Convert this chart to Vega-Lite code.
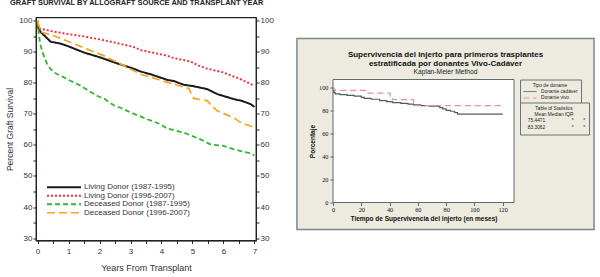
{
  "$schema": "https://vega.github.io/schema/vega-lite/v6.json",
  "background": "white",
  "padding": {"left": 5, "top": -1.5, "right": 0, "bottom": 0},
  "title": {"text": "GRAFT SURVIVAL BY ALLOGRAFT SOURCE AND TRANSPLANT YEAR", "anchor": "start", "font": "Liberation Sans", "fontSize": 7.5, "fontWeight": "bold", "color": "#222", "offset": 9.5, "dx": 5},
  "spacing": 22,
  "resolve": {
    "scale": {"color": "independent", "strokeDash": "independent", "strokeWidth": "independent", "shape": "independent"},
    "legend": {"color": "independent", "strokeDash": "independent", "strokeWidth": "independent", "shape": "independent"}
  },
  "datasets": {
    "graft": [
      {"series": "Living Donor (1987-1995)", "year": 0, "pct": 100},
      {"series": "Living Donor (1987-1995)", "year": 0.03, "pct": 97.5},
      {"series": "Living Donor (1987-1995)", "year": 0.1, "pct": 96.4},
      {"series": "Living Donor (1987-1995)", "year": 0.25, "pct": 95},
      {"series": "Living Donor (1987-1995)", "year": 0.42, "pct": 93.3},
      {"series": "Living Donor (1987-1995)", "year": 0.74, "pct": 92.7},
      {"series": "Living Donor (1987-1995)", "year": 1, "pct": 91.8},
      {"series": "Living Donor (1987-1995)", "year": 1.5, "pct": 89.8},
      {"series": "Living Donor (1987-1995)", "year": 2.03, "pct": 88.2},
      {"series": "Living Donor (1987-1995)", "year": 2.57, "pct": 86.3},
      {"series": "Living Donor (1987-1995)", "year": 3.1, "pct": 84.6},
      {"series": "Living Donor (1987-1995)", "year": 3.32, "pct": 83.7},
      {"series": "Living Donor (1987-1995)", "year": 3.65, "pct": 82.8},
      {"series": "Living Donor (1987-1995)", "year": 4.18, "pct": 81},
      {"series": "Living Donor (1987-1995)", "year": 4.4, "pct": 80.6},
      {"series": "Living Donor (1987-1995)", "year": 4.72, "pct": 79.4},
      {"series": "Living Donor (1987-1995)", "year": 5, "pct": 79},
      {"series": "Living Donor (1987-1995)", "year": 5.3, "pct": 78.4},
      {"series": "Living Donor (1987-1995)", "year": 5.5, "pct": 77.9},
      {"series": "Living Donor (1987-1995)", "year": 5.8, "pct": 76.4},
      {"series": "Living Donor (1987-1995)", "year": 6, "pct": 75.8},
      {"series": "Living Donor (1987-1995)", "year": 6.33, "pct": 74.8},
      {"series": "Living Donor (1987-1995)", "year": 6.6, "pct": 74.2},
      {"series": "Living Donor (1987-1995)", "year": 6.87, "pct": 73.2},
      {"series": "Living Donor (1987-1995)", "year": 7, "pct": 72.3},
      {"series": "Living Donor (1996-2007)", "year": 0, "pct": 100},
      {"series": "Living Donor (1996-2007)", "year": 0.03, "pct": 97.6},
      {"series": "Living Donor (1996-2007)", "year": 0.5, "pct": 96.6},
      {"series": "Living Donor (1996-2007)", "year": 0.96, "pct": 95.8},
      {"series": "Living Donor (1996-2007)", "year": 1.5, "pct": 95},
      {"series": "Living Donor (1996-2007)", "year": 2.03, "pct": 94},
      {"series": "Living Donor (1996-2007)", "year": 2.5, "pct": 93},
      {"series": "Living Donor (1996-2007)", "year": 3.1, "pct": 91.6},
      {"series": "Living Donor (1996-2007)", "year": 3.32, "pct": 90.6},
      {"series": "Living Donor (1996-2007)", "year": 3.8, "pct": 89.6},
      {"series": "Living Donor (1996-2007)", "year": 4.18, "pct": 88.8},
      {"series": "Living Donor (1996-2007)", "year": 4.4, "pct": 88},
      {"series": "Living Donor (1996-2007)", "year": 4.94, "pct": 86.9},
      {"series": "Living Donor (1996-2007)", "year": 5.2, "pct": 85.6},
      {"series": "Living Donor (1996-2007)", "year": 5.47, "pct": 84.6},
      {"series": "Living Donor (1996-2007)", "year": 6, "pct": 83.4},
      {"series": "Living Donor (1996-2007)", "year": 6.55, "pct": 81.2},
      {"series": "Living Donor (1996-2007)", "year": 7, "pct": 79.1},
      {"series": "Deceased Donor (1987-1995)", "year": 0, "pct": 100},
      {"series": "Deceased Donor (1987-1995)", "year": 0.05, "pct": 95},
      {"series": "Deceased Donor (1987-1995)", "year": 0.1, "pct": 92},
      {"series": "Deceased Donor (1987-1995)", "year": 0.2, "pct": 88.8},
      {"series": "Deceased Donor (1987-1995)", "year": 0.31, "pct": 86},
      {"series": "Deceased Donor (1987-1995)", "year": 0.42, "pct": 84.5},
      {"series": "Deceased Donor (1987-1995)", "year": 0.53, "pct": 83.4},
      {"series": "Deceased Donor (1987-1995)", "year": 0.85, "pct": 81.8},
      {"series": "Deceased Donor (1987-1995)", "year": 1.06, "pct": 80.7},
      {"series": "Deceased Donor (1987-1995)", "year": 1.39, "pct": 79.1},
      {"series": "Deceased Donor (1987-1995)", "year": 1.6, "pct": 77.8},
      {"series": "Deceased Donor (1987-1995)", "year": 1.93, "pct": 75.8},
      {"series": "Deceased Donor (1987-1995)", "year": 2.14, "pct": 75},
      {"series": "Deceased Donor (1987-1995)", "year": 2.46, "pct": 72.8},
      {"series": "Deceased Donor (1987-1995)", "year": 2.68, "pct": 72},
      {"series": "Deceased Donor (1987-1995)", "year": 3, "pct": 70.5},
      {"series": "Deceased Donor (1987-1995)", "year": 3.54, "pct": 68.3},
      {"series": "Deceased Donor (1987-1995)", "year": 3.97, "pct": 66.7},
      {"series": "Deceased Donor (1987-1995)", "year": 4.18, "pct": 65.3},
      {"series": "Deceased Donor (1987-1995)", "year": 4.72, "pct": 64},
      {"series": "Deceased Donor (1987-1995)", "year": 5.26, "pct": 61.8},
      {"series": "Deceased Donor (1987-1995)", "year": 5.58, "pct": 60.2},
      {"series": "Deceased Donor (1987-1995)", "year": 6, "pct": 59.7},
      {"series": "Deceased Donor (1987-1995)", "year": 6.33, "pct": 58.6},
      {"series": "Deceased Donor (1987-1995)", "year": 6.87, "pct": 57.3},
      {"series": "Deceased Donor (1987-1995)", "year": 7, "pct": 56.6},
      {"series": "Deceased Donor (1996-2007)", "year": 0, "pct": 100},
      {"series": "Deceased Donor (1996-2007)", "year": 0.1, "pct": 96.5},
      {"series": "Deceased Donor (1996-2007)", "year": 0.53, "pct": 95.2},
      {"series": "Deceased Donor (1996-2007)", "year": 1.06, "pct": 93.1},
      {"series": "Deceased Donor (1996-2007)", "year": 1.6, "pct": 90.9},
      {"series": "Deceased Donor (1996-2007)", "year": 2.14, "pct": 88.8},
      {"series": "Deceased Donor (1996-2007)", "year": 2.68, "pct": 86.1},
      {"series": "Deceased Donor (1996-2007)", "year": 3.1, "pct": 84},
      {"series": "Deceased Donor (1996-2007)", "year": 3.32, "pct": 82.8},
      {"series": "Deceased Donor (1996-2007)", "year": 4.4, "pct": 79.6},
      {"series": "Deceased Donor (1996-2007)", "year": 4.88, "pct": 78.2},
      {"series": "Deceased Donor (1996-2007)", "year": 5.04, "pct": 75},
      {"series": "Deceased Donor (1996-2007)", "year": 5.47, "pct": 74.3},
      {"series": "Deceased Donor (1996-2007)", "year": 5.63, "pct": 72.6},
      {"series": "Deceased Donor (1996-2007)", "year": 5.8, "pct": 71},
      {"series": "Deceased Donor (1996-2007)", "year": 6.33, "pct": 68.8},
      {"series": "Deceased Donor (1996-2007)", "year": 6.55, "pct": 67.3},
      {"series": "Deceased Donor (1996-2007)", "year": 7, "pct": 65.6}
    ],
    "km": [
      {"donante": "Donante cadáver", "mes": 0, "pct": 100},
      {"donante": "Donante cadáver", "mes": 0.3, "pct": 97},
      {"donante": "Donante cadáver", "mes": 0.7, "pct": 95.5},
      {"donante": "Donante cadáver", "mes": 1.5, "pct": 94.5},
      {"donante": "Donante cadáver", "mes": 5, "pct": 93.8},
      {"donante": "Donante cadáver", "mes": 10, "pct": 93.2},
      {"donante": "Donante cadáver", "mes": 15, "pct": 92.5},
      {"donante": "Donante cadáver", "mes": 20, "pct": 91.5},
      {"donante": "Donante cadáver", "mes": 22, "pct": 90.5},
      {"donante": "Donante cadáver", "mes": 27, "pct": 89.8},
      {"donante": "Donante cadáver", "mes": 33, "pct": 88.7},
      {"donante": "Donante cadáver", "mes": 38, "pct": 87.8},
      {"donante": "Donante cadáver", "mes": 42, "pct": 86.9},
      {"donante": "Donante cadáver", "mes": 48, "pct": 86.2},
      {"donante": "Donante cadáver", "mes": 53, "pct": 85.5},
      {"donante": "Donante cadáver", "mes": 57, "pct": 85},
      {"donante": "Donante cadáver", "mes": 62, "pct": 84.2},
      {"donante": "Donante cadáver", "mes": 68, "pct": 83.8},
      {"donante": "Donante cadáver", "mes": 74, "pct": 83.6},
      {"donante": "Donante cadáver", "mes": 75.5, "pct": 82.5},
      {"donante": "Donante cadáver", "mes": 77.5, "pct": 81.4},
      {"donante": "Donante cadáver", "mes": 80, "pct": 80.2},
      {"donante": "Donante cadáver", "mes": 83, "pct": 79.4},
      {"donante": "Donante cadáver", "mes": 86, "pct": 78.3},
      {"donante": "Donante cadáver", "mes": 88, "pct": 76.8},
      {"donante": "Donante cadáver", "mes": 120, "pct": 76.8},
      {"donante": "Donante vivo", "mes": 0, "pct": 100},
      {"donante": "Donante vivo", "mes": 0.5, "pct": 98.5},
      {"donante": "Donante vivo", "mes": 1.5, "pct": 97.5},
      {"donante": "Donante vivo", "mes": 23.5, "pct": 95.1},
      {"donante": "Donante vivo", "mes": 40.5, "pct": 92.5},
      {"donante": "Donante vivo", "mes": 42, "pct": 89.5},
      {"donante": "Donante vivo", "mes": 57, "pct": 84.2},
      {"donante": "Donante vivo", "mes": 120, "pct": 84.2}
    ],
    "stats": [
      {"mean": "75.4471", "median": "*", "iqr": "*"},
      {"mean": "83.3062", "median": "*", "iqr": "*"}
    ]
  },
  "hconcat": [
    {
      "width": 220,
      "height": 223,
      "view": {"stroke": "#222", "strokeWidth": 1.3},
      "data": {"name": "graft"},
      "layer": [
        {
          "mark": {"type": "line", "clip": true},
          "encoding": {
            "x": {"field": "year", "type": "quantitative",
              "scale": {"domain": [-0.05, 7.05], "nice": false, "zero": false},
              "axis": {"values": [0, 0.5, 1, 1.5, 2, 2.5, 3, 3.5, 4, 4.5, 5, 5.5, 6, 6.5, 7], "labelExpr": "datum.value % 1 === 0 ? format(datum.value, 'd') : ''", "labelFlush": false, "labelOverlap": false, "title": "Years From Transplant", "grid": false, "domainColor": "#222", "tickColor": "#222", "tickSize": 3, "labelPadding": 4, "labelFont": "Liberation Sans", "labelFontSize": 8, "labelColor": "#333", "titleFont": "Liberation Sans", "titleFontSize": 9, "titleFontWeight": "normal", "titleColor": "#333", "titlePadding": 8}},
            "y": {"field": "pct", "type": "quantitative",
              "scale": {"domain": [29.2, 101.1], "nice": false, "zero": false},
              "axis": {"values": [30, 35, 40, 45, 50, 55, 60, 65, 70, 75, 80, 85, 90, 95, 100], "labelExpr": "datum.value % 10 === 0 ? datum.label : ''", "labelOverlap": false, "labelFlush": false, "title": "Percent Graft Survival", "grid": false, "domainColor": "#222", "tickColor": "#222", "tickSize": 3, "labelPadding": 1, "labelFont": "Liberation Sans", "labelFontSize": 8, "labelColor": "#333", "titleFont": "Liberation Sans", "titleFontSize": 8.5, "titleFontWeight": "normal", "titleColor": "#333", "titlePadding": 4}},
            "color": {"field": "series", "type": "nominal",
              "scale": {"domain": ["Living Donor (1987-1995)", "Living Donor (1996-2007)", "Deceased Donor (1987-1995)", "Deceased Donor (1996-2007)"], "range": ["#1a1a1a", "#f5283c", "#2db82d", "#f7a21b"]},
              "legend": {"orient": "none", "legendX": 8, "legendY": 164, "title": null, "padding": 2, "symbolType": "stroke", "symbolSize": 1156, "symbolStrokeWidth": 2, "clipHeight": 7.5, "rowPadding": -0.5, "labelOffset": 2, "labelFont": "Liberation Sans", "labelFontSize": 8, "labelColor": "#333"}},
            "strokeDash": {"field": "series", "type": "nominal",
              "scale": {"domain": ["Living Donor (1987-1995)", "Living Donor (1996-2007)", "Deceased Donor (1987-1995)", "Deceased Donor (1996-2007)"], "range": [[1, 0], [2, 2], [5, 3], [8, 4]]}},
            "strokeWidth": {"field": "series", "type": "nominal",
              "scale": {"domain": ["Living Donor (1987-1995)", "Living Donor (1996-2007)", "Deceased Donor (1987-1995)", "Deceased Donor (1996-2007)"], "range": [2, 1.7, 1.6, 1.7]}}
          }
        },
        {
          "mark": {"type": "point", "opacity": 0},
          "encoding": {
            "y": {"field": "pct", "type": "quantitative",
              "scale": {"domain": [29.2, 101.1], "nice": false, "zero": false},
              "axis": {"orient": "right", "values": [30, 35, 40, 45, 50, 55, 60, 65, 70, 75, 80, 85, 90, 95, 100], "labelExpr": "datum.value % 10 === 0 ? datum.label : ''", "labelOverlap": false, "labelFlush": false, "title": null, "grid": false, "domainColor": "#222", "tickColor": "#222", "tickSize": 3, "labelPadding": 1, "labelFont": "Liberation Sans", "labelFontSize": 8, "labelColor": "#333"}}
          }
        }
      ],
      "resolve": {"scale": {"y": "independent"}}
    },
    {
      "spacing": 0,
      "resolve": {
        "scale": {"color": "independent", "strokeDash": "independent", "shape": "independent"},
        "legend": {"color": "independent", "strokeDash": "independent", "shape": "independent"}
      },
      "vconcat": [
        {
          "width": 10,
          "height": 20,
          "view": {"stroke": null},
          "data": {"values": []},
          "mark": "point"
        },
        {
          "width": 181,
          "height": 123,
          "view": {"stroke": null},
          "title": {"text": ["Supervivencia del injerto para primeros trasplantes", "estratificada por donantes Vivo-Cadáver"], "subtitle": "Kaplan-Meier Method", "anchor": "middle", "frame": "bounds", "offset": -37.5, "font": "Liberation Sans", "fontSize": 8, "fontWeight": "bold", "color": "#111", "lineHeight": 9, "subtitleFont": "Liberation Sans", "subtitleFontSize": 6.7, "subtitleColor": "#222", "subtitlePadding": 1, "subtitleLineHeight": 7, "zindex": 1},
          "layer": [
            {
              "data": {"values": [{}]},
              "mark": {"type": "rect", "fill": "#EDEADF", "stroke": "#7d8787", "strokeWidth": 1.5},
              "encoding": {
                "x": {"datum": -25.5, "type": "quantitative",
                  "scale": {"domain": [0, 128], "nice": false, "zero": false},
                  "axis": {"values": [0, 20, 40, 60, 80, 100, 120], "title": "Tiempo de Supervivencia del injerto (en meses)", "grid": false, "domain": false, "labelFlush": false, "labelOverlap": false, "zindex": 1, "tickColor": "#5c6b6b", "tickSize": 3, "labelPadding": 1, "labelFont": "Liberation Serif", "labelFontSize": 6.3, "labelColor": "#111", "titleFont": "Liberation Sans", "titleFontSize": 6.5, "titleFontWeight": "bold", "titleColor": "#111", "titlePadding": 2.5}},
                "x2": {"datum": 184.6},
                "y": {"datum": -23.5, "type": "quantitative",
                  "scale": {"domain": [0, 107], "nice": false, "zero": false},
                  "axis": {"values": [0, 20, 40, 60, 80, 100], "title": "Porcentaje", "grid": false, "domain": false, "labelFlush": false, "labelOverlap": false, "zindex": 1, "tickColor": "#5c6b6b", "tickSize": 3, "labelPadding": 2, "labelFont": "Liberation Serif", "labelFontSize": 6.3, "labelColor": "#111", "titleFont": "Liberation Sans", "titleFontSize": 6.5, "titleFontWeight": "bold", "titleColor": "#111", "titlePadding": 3}},
                "y2": {"datum": 142.7}
              }
            },
            {
              "data": {"values": [{}]},
              "mark": {"type": "rect", "fill": "white", "stroke": "#5c6b6b", "strokeWidth": 1},
              "encoding": {
                "x": {"datum": 0, "type": "quantitative",
                  "axis": {"values": [0, 20, 40, 60, 80, 100, 120], "title": "Tiempo de Supervivencia del injerto (en meses)", "grid": false, "domain": false, "labelFlush": false, "labelOverlap": false, "zindex": 1, "tickColor": "#5c6b6b", "tickSize": 3, "labelPadding": 1, "labelFont": "Liberation Serif", "labelFontSize": 6.3, "labelColor": "#111", "titleFont": "Liberation Sans", "titleFontSize": 6.5, "titleFontWeight": "bold", "titleColor": "#111", "titlePadding": 2.5}},
                "x2": {"datum": 128},
                "y": {"datum": 0, "type": "quantitative",
                  "axis": {"values": [0, 20, 40, 60, 80, 100], "title": "Porcentaje", "grid": false, "domain": false, "labelFlush": false, "labelOverlap": false, "zindex": 1, "tickColor": "#5c6b6b", "tickSize": 3, "labelPadding": 2, "labelFont": "Liberation Serif", "labelFontSize": 6.3, "labelColor": "#111", "titleFont": "Liberation Sans", "titleFontSize": 6.5, "titleFontWeight": "bold", "titleColor": "#111", "titlePadding": 3}},
                "y2": {"datum": 107}
              }
            },
            {
              "data": {"name": "km"},
              "mark": {"type": "line", "interpolate": "step-after", "strokeWidth": 1.2},
              "encoding": {
                "x": {"field": "mes", "type": "quantitative",
                  "axis": {"values": [0, 20, 40, 60, 80, 100, 120], "title": "Tiempo de Supervivencia del injerto (en meses)", "grid": false, "domain": false, "labelFlush": false, "labelOverlap": false, "zindex": 1, "tickColor": "#5c6b6b", "tickSize": 3, "labelPadding": 1, "labelFont": "Liberation Serif", "labelFontSize": 6.3, "labelColor": "#111", "titleFont": "Liberation Sans", "titleFontSize": 6.5, "titleFontWeight": "bold", "titleColor": "#111", "titlePadding": 2.5}},
                "y": {"field": "pct", "type": "quantitative",
                  "axis": {"values": [0, 20, 40, 60, 80, 100], "title": "Porcentaje", "grid": false, "domain": false, "labelFlush": false, "labelOverlap": false, "zindex": 1, "tickColor": "#5c6b6b", "tickSize": 3, "labelPadding": 2, "labelFont": "Liberation Serif", "labelFontSize": 6.3, "labelColor": "#111", "titleFont": "Liberation Sans", "titleFontSize": 6.5, "titleFontWeight": "bold", "titleColor": "#111", "titlePadding": 3}},
                "color": {"field": "donante", "type": "nominal",
                  "scale": {"domain": ["Donante cadáver", "Donante vivo"], "range": ["#4f5d5d", "#f28aa0"]},
                  "legend": {"title": "Tipo de donante", "orient": "none", "legendX": 187, "legendY": 0, "zindex": 1, "strokeColor": "#6b7575", "fillColor": "#EDEADF", "padding": 3, "titleAnchor": "middle", "titleFont": "Liberation Sans", "titleFontSize": 4.8, "titleFontWeight": "normal", "titleColor": "#222", "titlePadding": 1.2, "symbolType": "stroke", "symbolSize": 169, "symbolStrokeWidth": 1, "clipHeight": 6, "rowPadding": 0.5, "labelOffset": 4, "labelFont": "Liberation Sans", "labelFontSize": 4.8, "labelColor": "#222"}},
                "strokeDash": {"field": "donante", "type": "nominal",
                  "scale": {"domain": ["Donante cadáver", "Donante vivo"], "range": [[1, 0], [6, 4]]}}
              }
            },
            {
              "data": {"name": "stats"},
              "mark": {"type": "point", "opacity": 0},
              "encoding": {
                "shape": {"field": "mean", "type": "nominal",
                  "legend": {"title": ["Table of Statistics", "Mean  Median  IQR"], "orient": "none", "legendX": 187, "legendY": 23, "zindex": 1, "strokeColor": "#6b7575", "fillColor": "#EDEADF", "padding": 3, "titleAnchor": "middle", "titleFont": "Liberation Sans", "titleFontSize": 4.8, "titleFontWeight": "normal", "titleColor": "#222", "titleLineHeight": 6.4, "titlePadding": 1.5, "symbolSize": 0, "symbolOpacity": 0, "clipHeight": 5.5, "rowPadding": 0.5, "labelOffset": 0, "labelFont": "Liberation Sans", "labelFontSize": 4.8, "labelColor": "#222", "labelExpr": "datum.label + '\u2003\u2003\u2003\u2003\u2003\u00a0\u00a0*\u2003\u2003*'"}}
              }
            }
          ]
        }
      ]
    }
  ]
}
